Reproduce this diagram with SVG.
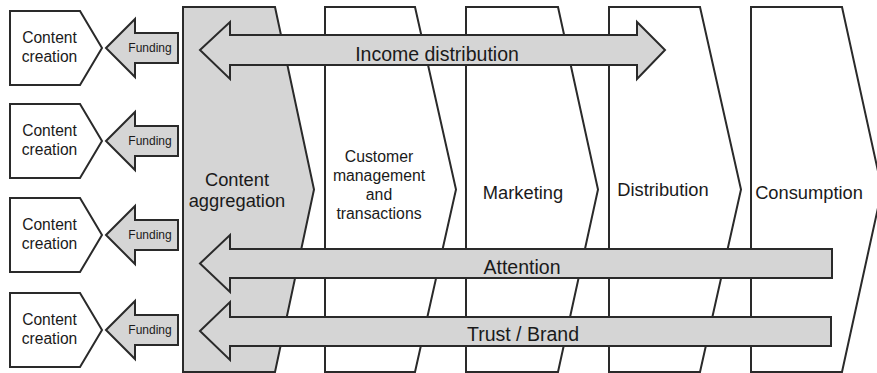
<svg xmlns="http://www.w3.org/2000/svg" width="877" height="373" viewBox="0 0 877 373">
<style>
.box{fill:#fff;stroke:#2a2a2a;stroke-width:2;stroke-linejoin:miter}
.gray{fill:#d5d5d5}
.arr{fill:#d5d5d5;stroke:#2a2a2a;stroke-width:2;stroke-linejoin:miter}
text{font-family:"Liberation Sans",Arial,sans-serif;fill:#1a1a1a;text-anchor:middle}
.t16{font-size:15.6px}
.t12{font-size:12px}
.t18{font-size:18.3px}
.t16b{font-size:15.8px}
.t19{font-size:19.5px}
</style>
<rect width="877" height="373" fill="#fff"/>
<g id="consumption">
<path class="box" d="M751,7 H842 L882,189.5 L842,372 H751 Z"/>
<text class="t18" x="809" y="199">Consumption</text>
</g>
<g id="distribution">
<path class="box" d="M609,7 H700 L741,189.5 L700,372 H609 Z"/>
<text class="t18" x="663" y="196">Distribution</text>
</g>
<g id="marketing">
<path class="box" d="M466,7 H558 L598,189.5 L558,372 H466 Z"/>
<text class="t18" x="523" y="199">Marketing</text>
</g>
<g id="customer">
<path class="box" d="M325,7 H415 L456,189.5 L415,372 H325 Z"/>
<text class="t16b" x="379" y="162">Customer</text>
<text class="t16b" x="379" y="181">management</text>
<text class="t16b" x="379" y="200">and</text>
<text class="t16b" x="379" y="219">transactions</text>
</g>
<g id="aggregation">
<path class="box gray" d="M183,7 H275 L314,189.5 L275,372 H183 Z"/>
<text class="t18" x="237" y="186">Content</text>
<text class="t18" x="237" y="207">aggregation</text>
</g>
<g id="creation1">
<path class="box" d="M10,11 H80 L102,48 L80,85 H10 Z"/>
<text class="t16" x="49.5" y="43">Content</text>
<text class="t16" x="49.5" y="62">creation</text>
</g>
<g id="creation2">
<path class="box" d="M10,104 H80 L102,141 L80,178 H10 Z"/>
<text class="t16" x="49.5" y="136">Content</text>
<text class="t16" x="49.5" y="155">creation</text>
</g>
<g id="creation3">
<path class="box" d="M10,198 H80 L102,235 L80,272 H10 Z"/>
<text class="t16" x="49.5" y="230">Content</text>
<text class="t16" x="49.5" y="249">creation</text>
</g>
<g id="creation4">
<path class="box" d="M10,293 H80 L102,330 L80,367 H10 Z"/>
<text class="t16" x="49.5" y="325">Content</text>
<text class="t16" x="49.5" y="344">creation</text>
</g>
<g id="connectors">
<path class="arr" d="M106,48 L135,19 V33 H178 V63 H135 V77 Z"/>
<text class="t12" x="150" y="52">Funding</text>
<path class="arr" d="M106,141 L135,112 V126 H178 V156 H135 V170 Z"/>
<text class="t12" x="150" y="145">Funding</text>
<path class="arr" d="M106,235 L135,206 V220 H178 V250 H135 V264 Z"/>
<text class="t12" x="150" y="239">Funding</text>
<path class="arr" d="M106,330 L135,301 V315 H178 V345 H135 V359 Z"/>
<text class="t12" x="150" y="334">Funding</text>
<path class="arr" d="M200,50 L230,22 V35 H637 V22 L665,50 L637,79 V65 H230 V79 Z"/>
<text class="t19" x="437" y="61">Income distribution</text>
<path class="arr" d="M200,263.5 L230,235 V249 H832 V278 H230 V292 Z"/>
<text class="t19" x="522" y="274">Attention</text>
<path class="arr" d="M200,331 L230,302 V317 H831 V346 H230 V360 Z"/>
<text class="t19" x="523" y="341">Trust / Brand</text>
</g>
</svg>
